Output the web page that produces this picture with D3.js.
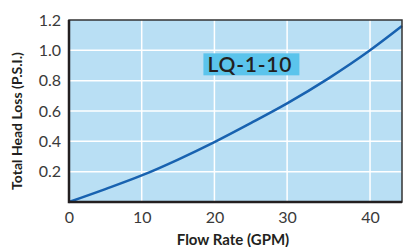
<!DOCTYPE html>
<html>
<head>
<meta charset="utf-8">
<script src="https://cdn.jsdelivr.net/npm/d3@7"></script>
<style>
  body { margin: 0; background: #fff; }
  text { font-family: Lato, "Open Sans", sans-serif; }
</style>
</head>
<body>
<div id="chart"></div>
<script>
// flow rate (GPM) vs head loss (PSI)
const flow = [0, 5, 10, 15, 20, 25, 30, 35, 40, 44];
const loss = [0, 0.085, 0.175, 0.28, 0.395, 0.52, 0.65, 0.815, 1.0, 1.16];
const xTicks = [0, 10, 20, 30, 40];
const yTicks = [0.2, 0.4, 0.6, 0.8, 1.0, 1.2];
const modelName = "LQ-1-10";

var margin = { top: 20, left: 69, right: 1, bottom: 45 },
  width = 403 - margin.left - margin.right,
  height = 247 - margin.top - margin.bottom;

var svg = d3.select("#chart")
  .append("svg")
  .attr("width", 403)
  .attr("height", 247)
  .append("g")
  .attr("transform", "translate(" + margin.left + "," + margin.top + ")");

// the original's grid isn't evenly spaced past 30, so use a piecewise scale
const x = d3.scaleLinear()
  .domain([0, 30, 40, 44])
  .range([0, width * 0.655, width * 0.904, width]);
const y = d3.scaleLinear().domain([0, 1.2]).range([height, 0]);

// background
svg.append("rect")
  .attr("width", width)
  .attr("height", height)
  .attr("fill", "#b9dff4");

// grid
svg.selectAll(".vgrid")
  .data(xTicks.slice(1))
  .join("line")
  .attr("x1", d => x(d)).attr("x2", d => x(d))
  .attr("y1", 0).attr("y2", height)
  .attr("stroke", "#fff")
  .attr("stroke-width", 1.5);

svg.selectAll(".hgrid")
  .data(yTicks.slice(0, -1))
  .join("line")
  .attr("x1", 0).attr("x2", width)
  .attr("y1", d => y(d)).attr("y2", d => y(d))
  .attr("stroke", "#fff")
  .attr("stroke-width", 1.5);

// model label
const lx = x(20) - 11, ly = y(1.0) + 3;
svg.append("rect")
  .attr("x", lx).attr("y", ly)
  .attr("width", 96).attr("height", 22)
  .attr("fill", "#5bc4ec");
svg.append("text")
  .attr("x", lx + 4).attr("y", ly + 18.5)
  .attr("font-family", "'Open Sans', sans-serif")
  .attr("font-size", "21px")
  .attr("font-weight", 600)
  .attr("letter-spacing", "0.8px")
  .attr("fill", "#231f20")
  .text(modelName);

// curve
const line = d3.line()
  .x((d, i) => x(flow[i]))
  .y(d => y(d))
  .curve(d3.curveMonotoneX);

svg.append("path")
  .datum(loss)
  .attr("d", line)
  .attr("fill", "none")
  .attr("stroke", "#1862b0")
  .attr("stroke-width", 2.5);

// frame
svg.append("rect")
  .attr("width", width)
  .attr("height", height)
  .attr("fill", "none")
  .attr("stroke", "#333")
  .attr("stroke-width", 1.5);
svg.append("path")
  .attr("d", "M0,0V" + height + "H" + width)
  .attr("fill", "none")
  .attr("stroke", "#231f20")
  .attr("stroke-width", 2.5);

// axes
const xAxis = svg.append("g")
  .attr("transform", "translate(0," + height + ")")
  .call(d3.axisBottom(x).tickValues(xTicks).tickSize(0).tickPadding(10));
const yAxis = svg.append("g")
  .call(d3.axisLeft(y).tickValues(yTicks).tickSize(0).tickPadding(8)
    .tickFormat(d3.format(".1f")));

[xAxis, yAxis].forEach(a => {
  a.select(".domain").remove();
  a.selectAll("text")
    .attr("font-family", "Lato, 'Open Sans', sans-serif")
    .attr("font-size", "16px")
    .attr("fill", "#3a3a3a");
});

// axis titles
svg.append("text")
  .attr("x", 164)
  .attr("y", height + 43)
  .attr("text-anchor", "middle")
  .attr("font-family", "'Open Sans', sans-serif")
  .attr("font-size", "15px")
  .attr("font-weight", "bold")
  .attr("fill", "#231f20")
  .text("Flow Rate (GPM)");

svg.append("text")
  .attr("transform", "translate(-47,101) rotate(-90)")
  .attr("text-anchor", "middle")
  .attr("font-family", "'Open Sans', sans-serif")
  .attr("font-size", "14px")
  .attr("font-weight", "bold")
  .attr("fill", "#231f20")
  .text("Total Head Loss (P.S.I.)");
</script>
</body>
</html>
